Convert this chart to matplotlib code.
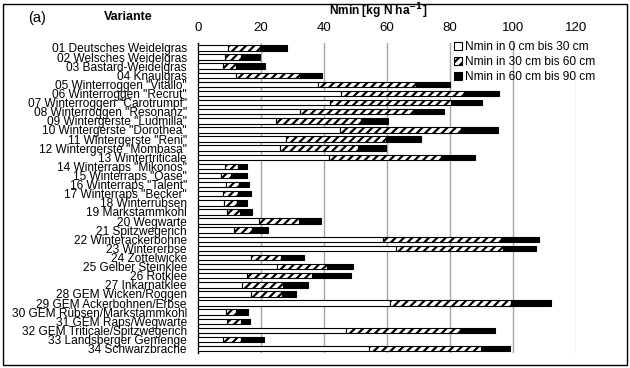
import matplotlib
matplotlib.use("Agg")
import matplotlib.pyplot as plt
from matplotlib.patches import Rectangle, Patch
import numpy as np

categories = [
    '01 Deutsches Weidelgras', '02 Welsches Weidelgras', '03 Bastard-Weidelgras',
    '04 Knaulgras', '05 Winterroggen "Vitallo"', '06 Winterroggen "Recrut"',
    '07 Winterroggen "Carotrumpf"', '08 Winterroggen "Resonanz"',
    '09 Wintergerste "Ludmilla"', '10 Wintergerste "Dorothea"',
    '11 Wintergerste "Reni"', '12 Wintergerste "Mombasa"', '13 Wintertriticale',
    '14 Winterraps "Mikonos"', '15 Winterraps "Oase"', '16 Winterraps "Talent"',
    '17 Winterraps "Becker"', '18 Winterrübsen', '19 Markstammkohl',
    '20 Wegwarte', '21 Spitzwegerich', '22 Winterackerbohne', '23 Wintererbse',
    '24 Zottelwicke', '25 Gelber Steinklee', '26 Rotklee', '27 Inkarnatklee',
    '28 GEM Wicken/Roggen', '29 GEM Ackerbohnen/Erbse',
    '30 GEM Rübsen/Markstammkohl', '31 GEM Raps/Wegwarte',
    '32 GEM Triticale/Spitzwegerich', '33 Landsberger Gemenge', '34 Schwarzbrache',
]

n_0_30 = [9.5, 8.5, 7.9, 12.2, 38.1, 45.5, 41.8, 32.3, 24.8, 45.0, 28.0, 25.9, 41.5,
          8.5, 7.4, 9.0, 7.9, 8.3, 9.2, 19.3, 11.4, 58.7, 62.7, 16.7, 25.1, 15.7,
          14.1, 16.9, 61.1, 8.8, 9.2, 46.9, 7.9, 54.3]
n_30_60 = [10.3, 5.3, 4.3, 20.1, 31.2, 38.8, 38.4, 36.0, 26.8, 38.4, 31.6, 24.9, 35.8,
           4.2, 3.2, 4.1, 4.8, 4.2, 4.0, 12.7, 5.9, 37.6, 34.2, 9.8, 15.9, 20.6,
           12.9, 9.9, 38.2, 3.4, 4.6, 36.4, 5.9, 35.4]
n_60_90 = [8.4, 6.0, 9.0, 7.2, 10.6, 11.2, 10.0, 9.8, 8.8, 11.8, 11.3, 9.0, 10.5,
           2.7, 4.8, 3.1, 4.2, 3.1, 3.9, 7.2, 4.9, 12.0, 10.5, 7.1, 8.2, 12.3,
           8.0, 4.2, 12.9, 3.7, 2.8, 10.9, 7.1, 9.3]

series_labels = ['Nmin in 0 cm bis 30 cm', 'Nmin in 30 cm bis 60 cm', 'Nmin in 60 cm bis 90 cm']
xticks = [0, 20, 40, 60, 80, 100, 120]

plt.rcParams['font.family'] = ['Liberation Sans', 'DejaVu Sans']
plt.rcParams['hatch.linewidth'] = 1.6

fig = plt.figure(figsize=(6.3, 3.68), dpi=100)
ax = fig.add_axes([198 / 630, 1 - 352.7 / 368, (576 - 198) / 630, (352.7 - 42.5) / 368])

y = np.arange(len(categories))
a = np.array(n_0_30)
b = np.array(n_30_60)
c = np.array(n_60_90)
h = 0.6
ax.barh(y, a, height=h, color='white', edgecolor='black', linewidth=0.8, zorder=3)
ax.barh(y, b, left=a, height=h, color='white', edgecolor='black', hatch='////', linewidth=0.8, zorder=3)
ax.barh(y, c, left=a + b, height=h, color='black', edgecolor='black', linewidth=0.8, zorder=3)

ax.set_xlim(0, 120)
ax.set_ylim(33.45, -0.6)
ax.set_yticks(y)
ax.set_yticklabels(categories, fontsize=8.6)
ax.tick_params(axis='y', length=0, pad=8)
ax.xaxis.tick_top()
ax.set_xticks(xticks)
ax.set_xticklabels([str(t) for t in xticks], fontsize=9.5)
ax.tick_params(axis='x', length=0, pad=6)
for t in xticks[1:]:
    ax.axvline(t, color='#a6a6a6' if t < 120 else '#c0c0c0', linewidth=1.0, zorder=1)
for s in ['top', 'right', 'bottom']:
    ax.spines[s].set_visible(False)
ax.spines['left'].set_linewidth(1.0)

handles = [Patch(facecolor='white', edgecolor='black', linewidth=0.8),
           Patch(facecolor='white', edgecolor='black', hatch='////', linewidth=0.8),
           Patch(facecolor='black', edgecolor='black', linewidth=0.8)]
ax.legend(handles, series_labels, loc='upper left', bbox_to_anchor=(452 / 630, 1 - 39 / 368),
          bbox_transform=fig.transFigure,
          frameon=False, fontsize=8.6, handlelength=0.65, handleheight=0.65,
          handletextpad=0.2, labelspacing=0.25, borderaxespad=0.0, borderpad=0.2)

fig.text(378 / 630, 1 - 11 / 368, r'Nmin [kg N ha$^{\mathbf{-1}}$]', fontsize=8.6,
         fontweight='bold', ha='center', va='center')
fig.text(128 / 630, 1 - 17 / 368, 'Variante', fontsize=9, fontweight='bold',
         ha='center', va='center')
fig.text(37 / 630, 1 - 18 / 368, '(a)', fontsize=10.5, ha='center', va='center')

fig.patches.append(Rectangle((3 / 630, 3 / 368), 624 / 630, 361 / 368, transform=fig.transFigure,
                             fill=False, edgecolor='black', linewidth=1.0))

fig.savefig('out.png', dpi=100)
